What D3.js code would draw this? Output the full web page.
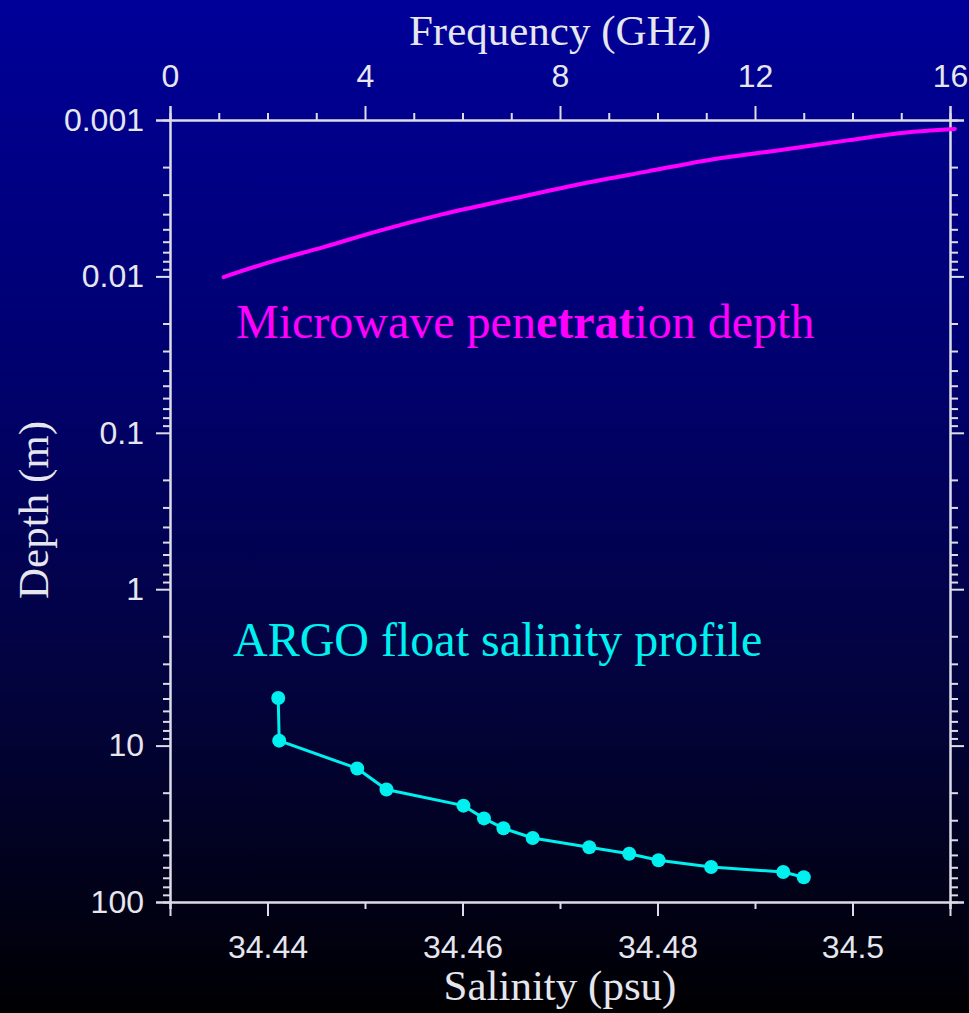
<!DOCTYPE html>
<html>
<head>
<meta charset="utf-8">
<script src="https://cdn.jsdelivr.net/npm/d3@7/dist/d3.min.js"></script>
<style>
  html, body { margin: 0; padding: 0; background: #000; }
  svg { display: block; }
</style>
</head>
<body>
<svg id="chart" width="969" height="1013"></svg>
<script>
// ---- Data ----
// Microwave penetration depth vs frequency
const mwFreqGHz = [1.1, 2.05, 3.15, 4.25, 5.6, 7.0, 8.2, 9.8, 11.15, 12.5, 13.9, 15.25, 16.1];
const mwDepthM  = [0.0101, 0.0081, 0.0065, 0.00515, 0.0040, 0.0032, 0.00265, 0.00213, 0.00178, 0.00156, 0.00135, 0.00119, 0.00114];

// ARGO float salinity profile
const argoSalinity = [34.4411, 34.4412, 34.4492, 34.4522, 34.4601, 34.4622, 34.4642, 34.4672, 34.4730, 34.4771, 34.4801, 34.4855, 34.4929, 34.4950];
const argoDepthM   = [4.96, 9.3, 14.0, 19.1, 24.2, 29.2, 33.8, 39.0, 44.7, 49.1, 54.1, 59.7, 64.3, 69.5];

// Tick values / labels
const depthMajorTicks = [0.001, 0.01, 0.1, 1, 10, 100];
const depthTickLabels = ["0.001", "0.01", "0.1", "1", "10", "100"];
const freqMajorTicks = [0, 4, 8, 12, 16];
const freqMinorTicks = [1, 2, 3, 5, 6, 7, 9, 10, 11, 13, 14, 15];
const salMajorTicks = [34.44, 34.46, 34.48, 34.5];
const salTickLabels = ["34.44", "34.46", "34.48", "34.5"];
const salMinorTicks = [34.43, 34.45, 34.47, 34.49, 34.51];

const titleTop = "Frequency (GHz)";
const titleBottom = "Salinity (psu)";
const titleLeft = "Depth (m)";

// ---- Layout ----
const W = 969, H = 1013;
const L = 170, R = 950, T = 120, B = 902;
const axisColor = "#dcdce8";
const textColor = "#e6e6ee";
const sansFont = "'Liberation Sans', Arial, Helvetica, sans-serif";
const serifFont = "'Liberation Serif', 'Times New Roman', Times, serif";
const tickFont = 32;

const svg = d3.select("#chart");

// Background gradient
const defs = svg.append("defs");
const grad = defs.append("linearGradient").attr("id", "bg")
  .attr("x1", 0).attr("y1", 0).attr("x2", 0).attr("y2", 1);
grad.append("stop").attr("offset", "0%").attr("stop-color", "#000099");
grad.append("stop").attr("offset", "35%").attr("stop-color", "#000070");
grad.append("stop").attr("offset", "70%").attr("stop-color", "#03033a");
grad.append("stop").attr("offset", "100%").attr("stop-color", "#000002");
svg.append("rect").attr("width", W).attr("height", H).attr("fill", "url(#bg)");

// Scales
const y = d3.scaleLog().domain([0.001, 100]).range([T, B]);
const xSal = d3.scaleLinear().domain([34.43, 34.51]).range([L, R]);
const xFreq = d3.scaleLinear().domain([0, 16]).range([L, R]);

// depth minor ticks (2..9 per decade)
const depthMinorTicks = [];
for (let d = 0; d < depthMajorTicks.length - 1; d++) {
  for (let k = 2; k <= 9; k++) depthMinorTicks.push(depthMajorTicks[d] * k);
}

function styleAxis(g) {
  g.select(".domain").attr("stroke", axisColor).attr("stroke-width", 2);
  g.selectAll(".tick line").attr("stroke", axisColor).attr("stroke-width", 2);
  g.selectAll(".tick text").attr("fill", textColor)
    .attr("font-family", sansFont).attr("font-size", tickFont);
  g.attr("font-family", null).attr("font-size", null);
}

// Left axis
svg.append("g").attr("transform", `translate(${L},0)`)
  .call(d3.axisLeft(y).tickValues(depthMinorTicks).tickSize(7).tickFormat(""))
  .call(styleAxis);
svg.append("g").attr("transform", `translate(${L},0)`)
  .call(d3.axisLeft(y).tickValues(depthMajorTicks).tickSize(14).tickPadding(12)
    .tickFormat((d, i) => depthTickLabels[i]))
  .call(styleAxis);

// Right axis (mirror)
svg.append("g").attr("transform", `translate(${R},0)`)
  .call(d3.axisRight(y).tickValues(depthMinorTicks).tickSize(8).tickFormat(""))
  .call(styleAxis);
svg.append("g").attr("transform", `translate(${R},0)`)
  .call(d3.axisRight(y).tickValues(depthMajorTicks).tickSize(14).tickFormat(""))
  .call(styleAxis);

// Top axis (frequency)
svg.append("g").attr("transform", `translate(0,${T})`)
  .call(d3.axisTop(xFreq).tickValues(freqMinorTicks).tickSize(7).tickFormat(""))
  .call(styleAxis);
svg.append("g").attr("transform", `translate(0,${T})`)
  .call(d3.axisTop(xFreq).tickValues(freqMajorTicks).tickSize(14).tickPadding(19)
    .tickFormat(d3.format("d")))
  .call(styleAxis);

// Bottom axis (salinity)
svg.append("g").attr("transform", `translate(0,${B})`)
  .call(d3.axisBottom(xSal).tickValues(salMinorTicks).tickSize(7).tickFormat(""))
  .call(styleAxis);
svg.append("g").attr("transform", `translate(0,${B})`)
  .call(d3.axisBottom(xSal).tickValues(salMajorTicks).tickSize(14).tickPadding(19)
    .tickFormat((d, i) => salTickLabels[i]))
  .call(styleAxis);

// Axis titles
svg.append("text").attr("x", 560).attr("y", 45).attr("text-anchor", "middle")
  .attr("font-family", serifFont).attr("font-size", 43).attr("fill", textColor)
  .text(titleTop);
svg.append("text").attr("x", 560).attr("y", 1000).attr("text-anchor", "middle")
  .attr("font-family", serifFont).attr("font-size", 43).attr("fill", textColor)
  .text(titleBottom);
svg.append("text").attr("transform", "translate(48,510) rotate(-90)")
  .attr("text-anchor", "middle")
  .attr("font-family", serifFont).attr("font-size", 43).attr("fill", textColor)
  .text(titleLeft);

// Microwave penetration depth line
const mwData = mwFreqGHz.map((f, i) => [f, mwDepthM[i]]);
svg.append("path").datum(mwData)
  .attr("fill", "none").attr("stroke", "#ff00ff").attr("stroke-width", 4)
  .attr("stroke-linecap", "round").attr("stroke-linejoin", "round")
  .attr("d", d3.line().x(d => xFreq(d[0])).y(d => y(d[1])).curve(d3.curveMonotoneX));

// ARGO profile
const argoData = argoSalinity.map((s, i) => [s, argoDepthM[i]]);
svg.append("path").datum(argoData)
  .attr("fill", "none").attr("stroke", "#00f0f0").attr("stroke-width", 3)
  .attr("d", d3.line().x(d => xSal(d[0])).y(d => y(d[1])));
svg.append("g").selectAll("circle").data(argoData).join("circle")
  .attr("cx", d => xSal(d[0])).attr("cy", d => y(d[1])).attr("r", 7)
  .attr("fill", "#00f0f0");

// Series labels
const mwLabel = svg.append("text").attr("x", 236).attr("y", 338)
  .attr("font-family", serifFont).attr("font-size", 48).attr("fill", "#ff00ff");
mwLabel.append("tspan").text("Microwave pen");
mwLabel.append("tspan").attr("font-weight", "bold").text("etrat");
mwLabel.append("tspan").text("ion depth");

svg.append("text").attr("x", 233).attr("y", 656)
  .attr("font-family", serifFont).attr("font-size", 48).attr("fill", "#00f0f0")
  .text("ARGO float salinity profile");
</script>
</body>
</html>
